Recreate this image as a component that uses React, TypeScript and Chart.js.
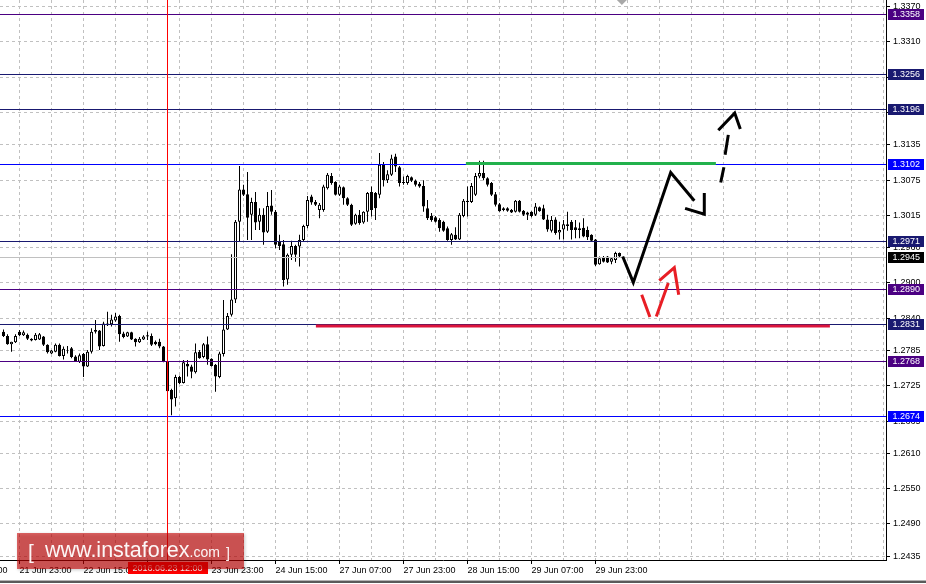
import { useEffect, useRef } from 'react';
import { Chart, registerables } from 'chart.js';

Chart.register(...registerables);

// Hourly bars, bar index 0 = 21 Jun 18:00 (weekend skipped). First drawn bar is index 1.
const FIRST_BAR = 1;

const opens = [
  1.2817, 1.2810, 1.2796, 1.2799, 1.2817, 1.2811, 1.2812, 1.2805, 1.2803, 1.2804,
  1.2809, 1.2795, 1.2780, 1.2783, 1.2795, 1.2776, 1.2785, 1.2789, 1.2775, 1.2766,
  1.2779, 1.2758, 1.2783, 1.2820, 1.2819, 1.2793, 1.2828, 1.2830, 1.2836, 1.2844,
  1.2814, 1.2809, 1.2816, 1.2805, 1.2799, 1.2804, 1.2809, 1.2810, 1.2800, 1.2800,
  1.2792, 1.2766, 1.2718, 1.2704, 1.2740, 1.2730, 1.2762, 1.2758, 1.2748, 1.2783,
  1.2774, 1.2796, 1.2771, 1.2761, 1.2740, 1.2779, 1.2821, 1.2846, 1.2872, 1.3004,
  1.3059, 1.3051, 1.3016, 1.3038, 1.3004, 1.3016, 1.2987, 1.3032, 1.3021, 1.2970,
  1.2966, 1.2906, 1.2948, 1.2963, 1.2962, 1.2973, 1.2997, 1.3047, 1.3038, 1.3024,
  1.3024, 1.3061, 1.3082, 1.3072, 1.3050, 1.3063, 1.3044, 1.3033, 1.3001, 1.3016,
  1.3003, 1.3021, 1.3055, 1.3053, 1.3050, 1.3101, 1.3075, 1.3084, 1.3115, 1.3097,
  1.3070, 1.3070, 1.3080, 1.3074, 1.3069, 1.3065, 1.3027, 1.3014, 1.3012, 1.3007,
  1.3004, 1.2993, 1.2973, 1.2982, 1.2974, 1.3014, 1.3038, 1.3038, 1.3050, 1.3081,
  1.3087, 1.3078, 1.3070, 1.3051, 1.3034, 1.3027, 1.3027, 1.3024, 1.3021, 1.3040,
  1.3023, 1.3020, 1.3021, 1.3016, 1.3029, 1.3027, 1.3008, 1.2989, 1.3008, 1.2986,
  1.2991, 1.3000, 1.3004, 1.2995, 1.2993, 1.2994, 1.2990, 1.2982, 1.2974, 1.2932,
  1.2944, 1.2945, 1.2936, 1.2939, 1.2951,
];
const highs = [
  1.2821, 1.2813, 1.2800, 1.2813, 1.2820, 1.2819, 1.2814, 1.2806, 1.2815, 1.2815,
  1.2810, 1.2796, 1.2786, 1.2797, 1.2797, 1.2792, 1.2793, 1.2791, 1.2777, 1.2780,
  1.2781, 1.2786, 1.2823, 1.2837, 1.2820, 1.2834, 1.2851, 1.2846, 1.2849, 1.2846,
  1.2817, 1.2817, 1.2817, 1.2806, 1.2808, 1.2811, 1.2817, 1.2814, 1.2802, 1.2805,
  1.2793, 1.2767, 1.2720, 1.2744, 1.2742, 1.2769, 1.2769, 1.2761, 1.2797, 1.2786,
  1.2798, 1.2809, 1.2772, 1.2762, 1.2783, 1.2871, 1.2849, 1.2949, 1.3007, 1.3099,
  1.3067, 1.3089, 1.3045, 1.3055, 1.3027, 1.3027, 1.3055, 1.3058, 1.3024, 1.2982,
  1.2973, 1.2950, 1.2972, 1.2965, 1.2982, 1.2999, 1.3048, 1.3050, 1.3041, 1.3036,
  1.3067, 1.3087, 1.3087, 1.3073, 1.3067, 1.3064, 1.3046, 1.3035, 1.3018, 1.3024,
  1.3022, 1.3055, 1.3064, 1.3055, 1.3121, 1.3106, 1.3092, 1.3118, 1.3120, 1.3099,
  1.3081, 1.3084, 1.3081, 1.3076, 1.3072, 1.3075, 1.3041, 1.3019, 1.3014, 1.3010,
  1.3006, 1.2996, 1.2985, 1.2995, 1.3019, 1.3043, 1.3064, 1.3070, 1.3087, 1.3108,
  1.3108, 1.3080, 1.3072, 1.3055, 1.3036, 1.3029, 1.3029, 1.3026, 1.3041, 1.3041,
  1.3024, 1.3021, 1.3022, 1.3036, 1.3030, 1.3033, 1.3016, 1.3014, 1.3012, 1.3004,
  1.3007, 1.3021, 1.3007, 1.3007, 1.3003, 1.3010, 1.2996, 1.2983, 1.2975, 1.2945,
  1.2946, 1.2946, 1.2944, 1.2953, 1.2952,
];
const lows = [
  1.2808, 1.2795, 1.2783, 1.2798, 1.2810, 1.2810, 1.2803, 1.2801, 1.2802, 1.2803,
  1.2793, 1.2780, 1.2779, 1.2782, 1.2775, 1.2770, 1.2780, 1.2772, 1.2766, 1.2764,
  1.2740, 1.2757, 1.2780, 1.2814, 1.2786, 1.2792, 1.2827, 1.2826, 1.2834, 1.2800,
  1.2806, 1.2808, 1.2803, 1.2792, 1.2798, 1.2803, 1.2803, 1.2793, 1.2794, 1.2789,
  1.2765, 1.2715, 1.2675, 1.2690, 1.2728, 1.2729, 1.2741, 1.2738, 1.2746, 1.2771,
  1.2772, 1.2761, 1.2758, 1.2715, 1.2738, 1.2775, 1.2820, 1.2843, 1.2866, 1.2970,
  1.3048, 1.2973, 1.2973, 1.2990, 1.2990, 1.2965, 1.2985, 1.3016, 1.2959, 1.2956,
  1.2894, 1.2897, 1.2939, 1.2936, 1.2928, 1.2970, 1.2993, 1.3033, 1.3031, 1.3010,
  1.3021, 1.3059, 1.3067, 1.3049, 1.3048, 1.3033, 1.3031, 1.2997, 1.2999, 1.2999,
  1.3001, 1.3004, 1.3013, 1.3007, 1.3044, 1.3064, 1.3070, 1.3082, 1.3089, 1.3064,
  1.3067, 1.3067, 1.3072, 1.3064, 1.3062, 1.3021, 1.3007, 1.3004, 1.3003, 1.2987,
  1.2987, 1.2972, 1.2965, 1.2973, 1.2973, 1.3012, 1.3013, 1.3036, 1.3048, 1.3078,
  1.3075, 1.3064, 1.3048, 1.3030, 1.3021, 1.3022, 1.3021, 1.3019, 1.3020, 1.3020,
  1.3014, 1.3007, 1.3012, 1.3014, 1.3021, 1.3007, 1.2987, 1.2986, 1.2982, 1.2974,
  1.2974, 1.2989, 1.2974, 1.2976, 1.2976, 1.2978, 1.2973, 1.2970, 1.2929, 1.2931,
  1.2935, 1.2934, 1.2932, 1.2934, 1.2944,
];
const closes = [
  1.2810, 1.2796, 1.2800, 1.2810, 1.2811, 1.2816, 1.2805, 1.2802, 1.2812, 1.2813,
  1.2795, 1.2782, 1.2785, 1.2795, 1.2776, 1.2788, 1.2786, 1.2774, 1.2767, 1.2777,
  1.2758, 1.2783, 1.2817, 1.2817, 1.2792, 1.2831, 1.2831, 1.2838, 1.2843, 1.2813,
  1.2808, 1.2816, 1.2804, 1.2799, 1.2805, 1.2809, 1.2811, 1.2795, 1.2796, 1.2792,
  1.2766, 1.2716, 1.2702, 1.2740, 1.2730, 1.2765, 1.2758, 1.2749, 1.2782, 1.2772,
  1.2796, 1.2770, 1.2759, 1.2741, 1.2780, 1.2821, 1.2844, 1.2872, 1.3004, 1.3059,
  1.3050, 1.3011, 1.3038, 1.3003, 1.3016, 1.2986, 1.3031, 1.3021, 1.2965, 1.2963,
  1.2905, 1.2948, 1.2963, 1.2948, 1.2973, 1.2997, 1.3041, 1.3037, 1.3033, 1.3033,
  1.3064, 1.3084, 1.3070, 1.3050, 1.3064, 1.3044, 1.3033, 1.2999, 1.3016, 1.3002,
  1.3021, 1.3053, 1.3024, 1.3027, 1.3101, 1.3075, 1.3085, 1.3112, 1.3098, 1.3070,
  1.3072, 1.3082, 1.3074, 1.3067, 1.3064, 1.3030, 1.3010, 1.3007, 1.3004, 1.2993,
  1.2989, 1.2973, 1.2983, 1.2974, 1.3016, 1.3040, 1.3040, 1.3065, 1.3082, 1.3087,
  1.3078, 1.3067, 1.3050, 1.3033, 1.3022, 1.3024, 1.3023, 1.3020, 1.3040, 1.3021,
  1.3016, 1.3016, 1.3014, 1.3030, 1.3022, 1.3008, 1.2991, 1.3007, 1.2985, 1.2990,
  1.3000, 1.2997, 1.2990, 1.2990, 1.2990, 1.2979, 1.2978, 1.2972, 1.2931, 1.2942,
  1.2936, 1.2935, 1.2942, 1.2951, 1.2945,
];

// Time axis
const timeLabels = [
  '21 Jun 07:00', '21 Jun 23:00', '22 Jun 15:00', '23 Jun 07:00', '23 Jun 23:00', '24 Jun 15:00',
  '27 Jun 07:00', '27 Jun 23:00', '28 Jun 15:00', '29 Jun 07:00', '29 Jun 23:00',
];
const timeLabelBars = [-11, 5, 21, 37, 53, 69, 85, 101, 117, 133, 149];
const GRID_STEP_BARS = 8;
const X_MIN = 0.125;
const X_MAX = 221.625;

// Price axis
const Y_MIN = 1.242875;
const Y_MAX = 1.338145;
const priceTicks = [
  1.3370, 1.3310, 1.3250, 1.3190, 1.3135, 1.3075, 1.3015, 1.2960, 1.2900,
  1.2840, 1.2785, 1.2725, 1.2665, 1.2610, 1.2550, 1.2490, 1.2435,
];

// Horizontal levels
const levelPrices = [1.3358, 1.3256, 1.3196, 1.3102, 1.2971, 1.2890, 1.2831, 1.2768, 1.2674];
const levelColors = ['#4B0082', '#191970', '#191970', '#0000FF', '#191970', '#4B0082', '#191970', '#4B0082', '#0000FF'];
const bidPrice = 1.2945;

// Crosshair
const crossBar = 42;
const crossLabel = '2016.06.23 12:00';
const shiftMarkBar = 155.6;

// Drawn annotations (bar index, price)
const greenLineBars = [116.6, 179.1];
const greenLinePrices = [1.31035, 1.31035];
const redLineBars = [79.1, 207.6];
const redLinePrices = [1.2827, 1.2827];

const blackArrowBars = [155.8, 158.45, 167.8, 173.7, null, 171.4, 176.2, 176.2];
const blackArrowPrices = [1.2945, 1.2901, 1.3088, 1.3040, null, 1.3027, 1.3017, 1.3053];
const dashArrowBars = [180.3, 181.1, null, 181.4, 182.2, null, 179.7, 183.8, 185.2];
const dashArrowPrices = [1.3071, 1.3097, null, 1.3118, 1.3152, null, 1.3160, 1.3189, 1.3162];
const redArrowBars = [160.55, 162.6, null, 164.2, 167.2, null, 164.95, 168.7, 169.8];
const redArrowPrices = [1.2880, 1.2842, null, 1.2843, 1.2900, null, 1.2904, 1.2926, 1.2880];

const FONT = '"Liberation Sans", Arial, sans-serif';
const BODY_DATASET = 5;

function pts(xs: (number | null)[], ys: (number | null)[]) {
  return xs.map((x, i) => ({ x, y: ys[i] }));
}

const overlayPlugin = {
  id: 'mtOverlay',
  afterDatasetDraw(chart: any, args: any) {
    if (args.index !== BODY_DATASET) return;
    const { ctx, chartArea: a, scales } = chart;
    const y = scales.y;
    const x = scales.x;
    ctx.save();
    ctx.lineWidth = 1;
    const hline = (p: number, color: string) => {
      const py = Math.round(y.getPixelForValue(p)) + 0.5;
      ctx.strokeStyle = color;
      ctx.beginPath();
      ctx.moveTo(a.left, py);
      ctx.lineTo(a.right, py);
      ctx.stroke();
    };
    hline(bidPrice, '#C0C0C0');
    levelPrices.forEach((p, i) => hline(p, levelColors[i]));
    const cx = Math.round(x.getPixelForValue(crossBar) - 0.5) + 0.5;
    ctx.strokeStyle = '#FF0000';
    ctx.beginPath();
    ctx.moveTo(cx, a.top);
    ctx.lineTo(cx, a.bottom);
    ctx.stroke();
    ctx.restore();
  },
  afterDraw(chart: any) {
    const { ctx, chartArea: a, scales } = chart;
    const y = scales.y;
    const x = scales.x;
    ctx.save();
    ctx.font = `9px ${FONT}`;
    ctx.textBaseline = 'middle';
    ctx.textAlign = 'left';
    const box = (p: number, bg: string) => {
      const py = Math.round(y.getPixelForValue(p));
      ctx.fillStyle = bg;
      ctx.fillRect(a.right + 2, py - 5, 36, 11);
      ctx.fillStyle = '#FFFFFF';
      ctx.fillText(p.toFixed(4), a.right + 6.5, py + 0.5);
    };
    levelPrices.forEach((p, i) => box(p, levelColors[i]));
    box(bidPrice, '#000000');

    // crosshair time label
    const cx = x.getPixelForValue(crossBar);
    ctx.fillStyle = '#FF0000';
    ctx.fillRect(Math.round(cx - 40), a.bottom + 2, 80, 12);
    ctx.fillStyle = '#FFFFFF';
    ctx.textAlign = 'center';
    ctx.fillText(crossLabel, cx, a.bottom + 8.5);

    // shift marker
    const sx = x.getPixelForValue(shiftMarkBar);
    ctx.fillStyle = '#A8A8A8';
    ctx.beginPath();
    ctx.moveTo(sx - 5, a.top);
    ctx.lineTo(sx + 5, a.top);
    ctx.lineTo(sx, a.top + 5);
    ctx.closePath();
    ctx.fill();

    // watermark
    ctx.save();
    ctx.shadowColor = 'rgba(0,0,0,0.35)';
    ctx.shadowBlur = 3;
    ctx.shadowOffsetX = 1;
    ctx.shadowOffsetY = 1;
    ctx.fillStyle = 'rgba(200, 0, 0, 0.6)';
    ctx.fillRect(17, 533, 227, 36);
    ctx.restore();
    ctx.fillStyle = 'rgba(255,255,255,0.95)';
    ctx.textAlign = 'left';
    ctx.textBaseline = 'alphabetic';
    ctx.font = `21px ${FONT}`;
    ctx.fillText('[', 28, 559);
    ctx.font = `21.5px ${FONT}`;
    ctx.fillText('www.instaforex', 45, 557);
    const w = ctx.measureText('www.instaforex').width;
    ctx.font = `14px ${FONT}`;
    ctx.fillText('.com', 45 + w, 557);
    ctx.fillText(']', 226, 558);

    // window bottom edge
    ctx.fillStyle = '#B4B4B4';
    ctx.fillRect(0, 580, chart.width, 1);
    ctx.fillStyle = '#5A5A5A';
    ctx.fillRect(0, 581, chart.width, 2);
    ctx.restore();
  },
};

export default function App() {
  const ref = useRef<HTMLCanvasElement>(null);

  useEffect(() => {
    const canvas = ref.current;
    if (!canvas) return;

    const bars = opens.map((_, i) => FIRST_BAR + i);
    const wickData = bars.map((b, i) => ({ x: b, y: [lows[i], highs[i]] }));
    const bodyData = bars.map((b, i) => ({
      x: b,
      y: [Math.min(opens[i], closes[i]), Math.max(opens[i], closes[i])],
    }));
    const bodyColors = bars.map((_, i) => (closes[i] > opens[i] ? '#FFFFFF' : '#000000'));

    const gridTicks: { value: number }[] = [];
    for (let v = timeLabelBars[0]; v <= X_MAX; v += GRID_STEP_BARS) gridTicks.push({ value: v });

    const lineBase = {
      type: 'line' as const,
      pointRadius: 0,
      pointHoverRadius: 0,
      fill: false,
      tension: 0,
      spanGaps: false,
      borderCapStyle: 'butt' as const,
      borderJoinStyle: 'miter' as const,
    };

    const chart = new Chart(canvas, {
      type: 'bar',
      data: {
        datasets: [
          {
            ...lineBase,
            data: pts(blackArrowBars, blackArrowPrices),
            borderColor: '#000000',
            borderWidth: 3,
            order: 0,
          } as any,
          {
            ...lineBase,
            data: pts(dashArrowBars, dashArrowPrices),
            borderColor: '#000000',
            borderWidth: 3,
            order: 0,
          } as any,
          {
            ...lineBase,
            data: pts(redArrowBars, redArrowPrices),
            borderColor: '#E81E25',
            borderWidth: 3,
            order: 0,
          } as any,
          {
            ...lineBase,
            data: pts(greenLineBars, greenLinePrices),
            borderColor: '#22B14C',
            borderWidth: 3,
            order: 1,
          } as any,
          {
            ...lineBase,
            data: pts(redLineBars, redLinePrices),
            borderColor: '#DC143C',
            borderWidth: 3,
            order: 1,
          } as any,
          {
            type: 'bar',
            data: bodyData as any,
            backgroundColor: bodyColors,
            borderColor: '#000000',
            borderWidth: 1,
            borderSkipped: false,
            barThickness: 3,
            grouped: false,
            inflateAmount: 0,
            order: 5,
          } as any,
          {
            type: 'bar',
            data: wickData as any,
            backgroundColor: '#000000',
            borderWidth: 0,
            barThickness: 1,
            grouped: false,
            inflateAmount: 0,
            order: 6,
          } as any,
        ],
      },
      options: {
        animation: false,
        responsive: false,
        devicePixelRatio: 1,
        maintainAspectRatio: false,
        layout: { padding: 0 },
        events: [],
        plugins: {
          legend: { display: false },
          tooltip: { enabled: false },
          title: { display: false },
        },
        scales: {
          x: {
            type: 'linear',
            position: 'bottom',
            min: X_MIN,
            max: X_MAX,
            bounds: 'data',
            offset: false,
            afterBuildTicks: (s: any) => {
              s.ticks = gridTicks.map((t) => ({ value: t.value }));
            },
            afterFit: (s: any) => {
              s.height = 24;
              s.paddingLeft = 0;
              s.paddingRight = 0;
              s.paddingTop = 0;
              s.paddingBottom = 0;
            },
            ticks: {
              autoSkip: false,
              maxRotation: 0,
              minRotation: 0,
              align: 'start',
              padding: 1,
              color: '#000000',
              font: { family: FONT, size: 9 },
              callback: (v: any) => {
                const i = timeLabelBars.indexOf(Number(v));
                return i >= 0 ? timeLabels[i] : '';
              },
            },
            grid: {
              offset: false,
              color: '#C0C0C0',
              lineWidth: 1,
              drawTicks: true,
              tickLength: 4,
              tickBorderDash: [],
              tickColor: (c: any) =>
                c.tick && timeLabelBars.includes(c.tick.value) ? '#000000' : 'rgba(0,0,0,0)',
            },
            border: { display: true, color: '#000000', width: 1, dash: [3, 3] },
          } as any,
          y: {
            type: 'linear',
            position: 'right',
            min: Y_MIN,
            max: Y_MAX,
            bounds: 'data',
            afterBuildTicks: (s: any) => {
              s.ticks = priceTicks.map((v) => ({ value: v }));
            },
            afterFit: (s: any) => {
              s.width = 40;
              s.paddingLeft = 0;
              s.paddingRight = 0;
              s.paddingTop = 0;
              s.paddingBottom = 0;
            },
            ticks: {
              autoSkip: false,
              padding: 3,
              color: '#000000',
              font: { family: FONT, size: 9 },
              callback: (v: any) => Number(v).toFixed(4),
            },
            grid: {
              color: '#C0C0C0',
              lineWidth: 1,
              drawTicks: true,
              tickLength: 4,
              tickBorderDash: [],
              tickColor: '#000000',
            },
            border: { display: true, color: '#000000', width: 1, dash: [3, 3] },
          } as any,
        },
      },
      plugins: [overlayPlugin],
    });

    return () => chart.destroy();
  }, []);

  return (
    <div style={{ position: 'fixed', left: 0, top: 0, width: 926, height: 584, background: '#FFFFFF' }}>
      <canvas ref={ref} width={926} height={584} style={{ display: 'block', width: 926, height: 584 }} />
    </div>
  );
}
